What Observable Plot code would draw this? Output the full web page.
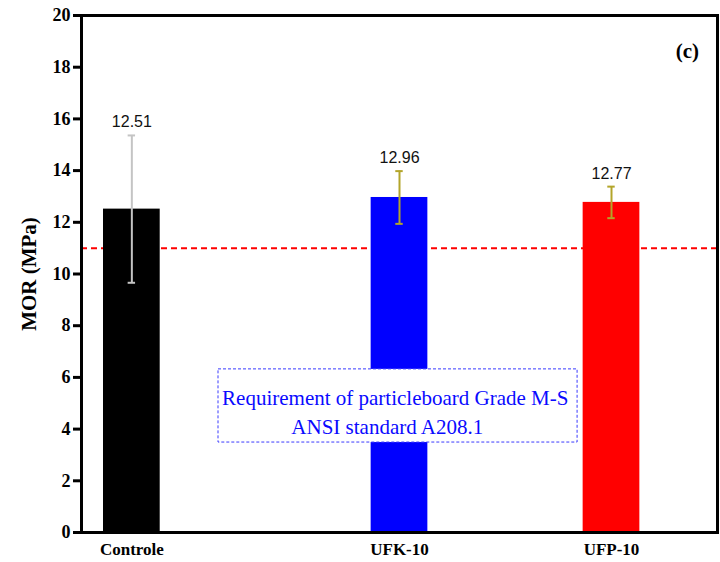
<!DOCTYPE html>
<html>
<head>
<meta charset="utf-8">
<script src="https://cdn.jsdelivr.net/npm/d3@7"></script>
<script src="https://cdn.jsdelivr.net/npm/@observablehq/plot@0.6"></script>
<style>
  html, body { margin: 0; padding: 0; background: #fff; }
  #chart svg { display: block; }
  #chart svg g[aria-label="y-axis tick label"],
  #chart svg g[aria-label="x-axis tick label"],
  #chart svg g[aria-label="y-axis tick label"] text,
  #chart svg g[aria-label="x-axis tick label"] text {
    font-family: 'Liberation Serif', 'Times New Roman', Times, serif !important;
    font-weight: bold !important;
  }
</style>
</head>
<body>
<div id="chart"></div>
<script>
// ---- data ----
const categories = ["Controle", "UFK-10", "UFP-10"];
const slots = [0.95, 6, 10];           // category slot on the x axis (0–12)
const means = [12.51, 12.96, 12.77];
const errors = [2.85, 1.02, 0.61];
const valueLabels = ["12.51", "12.96", "12.77"];
const requirement = 11;                // ANSI A208.1 Grade M-S MOR
const yTicks = [0, 2, 4, 6, 8, 10, 12, 14, 16, 18, 20];
const noteLines = ["Requirement of particleboard Grade M-S", "ANSI standard A208.1"];
const noteLineX = [5.92, 5.77];
const noteLineY = [5.11, 4.02];
const noteBox = {x1: 2.585, x2: 9.36, y1: 3.48, y2: 6.31};
const panelTag = {label: "(c)", x: 11.43, y: 18.5};

// ---- styles ----
const barColors = ["#000000", "#0000ff", "#ff0000"];
const errColors = ["#c4c4c4", "#b3a52a", "#b3a52a"];
const halfBar = 0.535;
const halfCap = 0.07;

const rows = categories.map((c, i) => ({
  cat: c, slot: slots[i], mean: means[i], err: errors[i],
  label: valueLabels[i], color: barColors[i], ecolor: errColors[i]
}));
const notes = noteLines.map((t, i) => ({t, x: noteLineX[i], y: noteLineY[i]}));

const serif = "'Liberation Serif', 'Times New Roman', Times, serif";
const sans = "'Liberation Sans', Arial, Helvetica, sans-serif";

const chart = Plot.plot({
  width: 720,
  height: 562,
  marginLeft: 81,
  marginRight: 3,
  marginTop: 15,
  marginBottom: 30,
  style: {background: "#fff", fontFamily: serif, overflow: "visible"},
  x: {domain: [0, 12], axis: null},
  y: {domain: [0, 20], axis: null},
  marks: [
    Plot.ruleY([requirement], {stroke: "#ff0000", strokeWidth: 2, strokeDasharray: "6,4"}),
    Plot.rect(rows, {
      x1: d => d.slot - halfBar, x2: d => d.slot + halfBar,
      y1: 0, y2: "mean", fill: "color", inset: 0
    }),
    Plot.ruleX(rows, {x: "slot", y1: d => d.mean - d.err, y2: d => d.mean + d.err, stroke: "ecolor", strokeWidth: 2}),
    Plot.ruleY(rows, {y: d => d.mean + d.err, x1: d => d.slot - halfCap, x2: d => d.slot + halfCap, stroke: "ecolor", strokeWidth: 2}),
    Plot.ruleY(rows, {y: d => d.mean - d.err, x1: d => d.slot - halfCap, x2: d => d.slot + halfCap, stroke: "ecolor", strokeWidth: 2}),
    Plot.text(rows, {
      x: "slot", y: d => d.mean + d.err, text: "label",
      dy: -8, lineAnchor: "bottom", fontSize: 16, fontFamily: sans, fill: "#111"
    }),
    Plot.rect([noteBox], {
      x1: "x1", x2: "x2", y1: "y1", y2: "y2",
      fill: "#fff", stroke: "#3a3aff", strokeWidth: 1, strokeDasharray: "3,2"
    }),
    Plot.text(notes, {
      x: "x", y: "y", text: "t", lineAnchor: "bottom", textAnchor: "middle",
      fontSize: 21, fontFamily: serif, fill: "#0a0aff", dy: 5
    }),
    Plot.text([panelTag], {
      x: "x", y: "y", text: "label", lineAnchor: "bottom",
      fontSize: 21, fontWeight: "bold", fontFamily: serif, fill: "#000", dy: 4
    }),
    Plot.axisY({
      ticks: yTicks, tickSize: 8, tickPadding: 3, tickFormat: d => d,
      fontSize: 18, fontWeight: "bold", fontFamily: serif, strokeWidth: 3,
      label: "MOR (MPa)", labelAnchor: "center", labelArrow: "none", labelOffset: 60
    }),
    Plot.axisX({
      ticks: slots, tickSize: 0, tickPadding: 10,
      tickFormat: d => categories[slots.indexOf(d)],
      fontSize: 17, fontWeight: "bold", fontFamily: serif, label: null
    }),
    Plot.frame({stroke: "#000", strokeWidth: 3})
  ]
});

chart.querySelectorAll("g[aria-label='y-axis label'] text, g[aria-label='y-axis label']").forEach(t => {
  t.setAttribute("font-size", "21");
  t.setAttribute("font-weight", "bold");
  t.setAttribute("font-family", serif);
});
chart.querySelectorAll("g[aria-label$='tick label']").forEach(g => {
  g.setAttribute("font-family", serif);
  g.setAttribute("font-weight", "bold");
});
document.getElementById("chart").appendChild(chart);
</script>
</body>
</html>
